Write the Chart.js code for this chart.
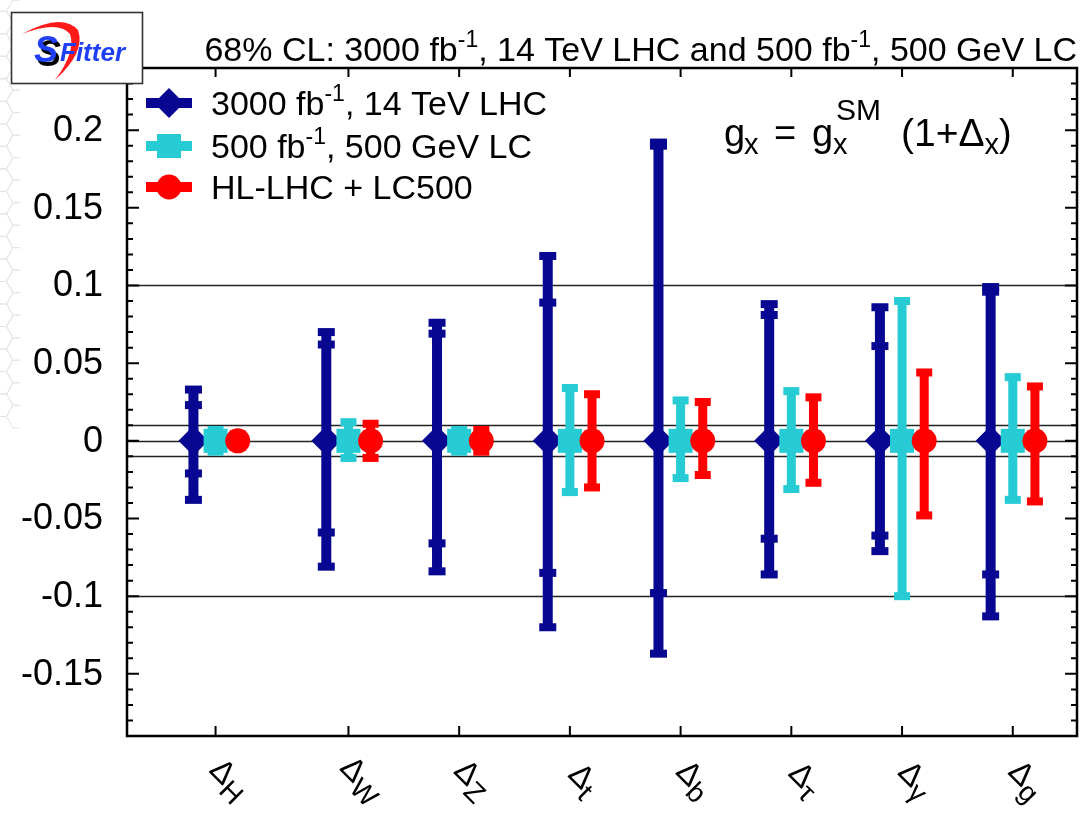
<!DOCTYPE html>
<html>
<head>
<meta charset="utf-8">
<script src="https://cdn.jsdelivr.net/npm/chart.js@4"></script>
<style>
  html, body { margin: 0; padding: 0; background: #fff; overflow: hidden; }
  canvas { display: block; }
</style>
</head>
<body>
<canvas id="chart" width="1080" height="819"></canvas>
<script>
// Couplings and their slot on the x axis
const couplings = ['H', 'W', 'Z', 't', 'b', 'τ', 'γ', 'g'];
const couplingX = [0.8, 2, 3, 4, 5, 6, 7, 8];
const yTicks = [0.2, 0.15, 0.1, 0.05, 0, -0.05, -0.1, -0.15];
const refLines = [0.1, 0.01, 0, -0.01, -0.1];

// 3000 fb^-1, 14 TeV LHC: central value, full band and inner band
const lhcCentral = [0, 0, 0, 0, 0, 0, 0, 0];
const lhcUp      = [0.033, 0.070, 0.076, 0.119, 0.192, 0.088, 0.086, 0.099];
const lhcDown    = [-0.038, -0.081, -0.084, -0.120, -0.137, -0.086, -0.071, -0.113];
const lhcInnerUp   = [0.023, 0.062, 0.069, 0.089, 0.190, 0.081, 0.061, 0.096];
const lhcInnerDown = [-0.021, -0.059, -0.066, -0.085, -0.098, -0.063, -0.061, -0.086];

// 500 fb^-1, 500 GeV LC
const lcCentral = [0, 0, 0, 0, 0, 0, 0, 0];
const lcUp      = [0.007, 0.012, 0.007, 0.034, 0.026, 0.032, 0.090, 0.041];
const lcDown    = [-0.007, -0.011, -0.007, -0.033, -0.024, -0.031, -0.100, -0.038];

// HL-LHC + LC500 combined
const comboCentral = [0, 0, 0, 0, 0, 0, 0, 0];
const comboUp      = [0.004, 0.011, 0.007, 0.030, 0.025, 0.028, 0.044, 0.035];
const comboDown    = [-0.004, -0.011, -0.007, -0.030, -0.022, -0.027, -0.048, -0.039];

const FONT = '"Liberation Sans", Arial, Helvetica, sans-serif';
const BLUE = '#070791';
const CYAN = '#26CBD4';
const RED = '#FF0000';

function fontOf(size, style) { return (style || '') + ' ' + size + 'px ' + FONT; }

// Lay out a run of text pieces (sub/superscripts via dy, stacked pieces via stack,
// fixed offsets via at)
function layoutRich(ctx, segs) {
  let x = 0, holdX = null, holdW = 0;
  const items = [];
  for (const s of segs) {
    if (s.at !== undefined) { x = s.at; holdX = null; }
    ctx.font = fontOf(s.size, s.style);
    const w = ctx.measureText(s.t).width;
    items.push(Object.assign({}, s, { x }));
    if (s.stack) { holdX = x; holdW = w; }
    else if (holdX !== null) { x = holdX + Math.max(holdW, w); holdX = null; }
    else x += w;
  }
  return { items, width: x };
}
function drawRich(ctx, segs, x, y, align) {
  const L = layoutRich(ctx, segs);
  let x0 = x;
  if (align === 'right') x0 = x - L.width;
  else if (align === 'center') x0 = x - L.width / 2;
  ctx.textAlign = 'left';
  ctx.textBaseline = 'alphabetic';
  for (const it of L.items) {
    ctx.font = fontOf(it.size, it.style);
    ctx.fillText(it.t, x0 + it.x, y + (it.dy || 0));
  }
  return L.width;
}

function makeSeries(label, xShift, central, color, style, radius, up, down, extra) {
  return Object.assign({
    label,
    data: couplingX.map((x, i) => ({ x: x + xShift, y: central[i] })),
    backgroundColor: color,
    borderColor: color,
    borderWidth: 0,
    pointStyle: style,
    pointRadius: radius,
    pointHoverRadius: radius,
    showLine: false,
    errUp: up,
    errDown: down
  }, extra);
}

const datasets = [
  makeSeries('HL-LHC + LC500', 0.2, comboCentral, RED, 'circle', 12.5, comboUp, comboDown,
    { order: 1, barWidth: 9, capWidth: 16 }),
  makeSeries('500 fb-1, 500 GeV LC', 0, lcCentral, CYAN, 'rect', 17, lcUp, lcDown,
    { order: 2, barWidth: 9, capWidth: 16 }),
  makeSeries('3000 fb-1, 14 TeV LHC', -0.2, lhcCentral, BLUE, 'rectRot', 15, lhcUp, lhcDown,
    { order: 3, barWidth: 10, capWidth: 17, innerUp: lhcInnerUp, innerDown: lhcInnerDown })
];

// faint honeycomb texture along the left margin
function drawMarginTexture(ctx, h) {
  ctx.save();
  ctx.beginPath();
  ctx.rect(0, 0, 20, h);
  ctx.clip();
  ctx.strokeStyle = '#e4e4e4';
  ctx.lineWidth = 1;
  const r = 13, dy = r * Math.sqrt(3);
  for (let row = -1; row * dy < h + dy; row++) {
    for (let col = -1; col < 2; col++) {
      const cx = col * r * 3 + ((row % 2) ? r * 1.5 : 0);
      const cy = row * dy / 2;
      ctx.beginPath();
      for (let k = 0; k < 6; k++) {
        const ang = k * Math.PI / 3;
        const px = cx + r * Math.cos(ang), py = cy + r * Math.sin(ang);
        if (k === 0) ctx.moveTo(px, py); else ctx.lineTo(px, py);
      }
      ctx.closePath();
      ctx.stroke();
    }
  }
  ctx.restore();
}

const errorBars = {
  id: 'errorBars',
  beforeDraw(chart) {
    const ctx = chart.ctx;
    ctx.save();
    ctx.fillStyle = '#fff';
    ctx.fillRect(0, 0, chart.width, chart.height);
    ctx.restore();
    drawMarginTexture(ctx, chart.height);
  },
  beforeDatasetsDraw(chart) {
    const { ctx, chartArea: a, scales: { y } } = chart;
    ctx.save();
    ctx.strokeStyle = '#222';
    ctx.lineWidth = 1.3;
    for (const v of refLines) {
      const py = Math.round(y.getPixelForValue(v)) + 0.5;
      ctx.beginPath();
      ctx.moveTo(a.left, py);
      ctx.lineTo(a.right, py);
      ctx.stroke();
    }
    ctx.restore();
  },
  beforeDatasetDraw(chart, args) {
    const ds = chart.data.datasets[args.index];
    const meta = args.meta;
    const ctx = chart.ctx;
    const y = chart.scales.y;
    const capH = 8;
    ctx.save();
    ctx.fillStyle = ds.borderColor;
    meta.data.forEach((pt, i) => {
      const c = ds.data[i].y;
      const top = y.getPixelForValue(c + ds.errUp[i]);
      const bot = y.getPixelForValue(c + ds.errDown[i]);
      ctx.fillRect(pt.x - ds.barWidth / 2, top, ds.barWidth, bot - top);
      const caps = [top, bot];
      if (ds.innerUp) {
        caps.push(y.getPixelForValue(c + ds.innerUp[i]));
        caps.push(y.getPixelForValue(c + ds.innerDown[i]));
      }
      for (const cy of caps) {
        ctx.fillRect(pt.x - ds.capWidth / 2, cy - capH / 2, ds.capWidth, capH);
      }
    });
    ctx.restore();
  },
  afterDatasetsDraw(chart) {
    const { ctx, chartArea: a, scales: { x, y } } = chart;
    ctx.save();
    // frame
    ctx.strokeStyle = '#000';
    ctx.lineWidth = 2.5;
    ctx.strokeRect(a.left, a.top, a.right - a.left, a.bottom - a.top);
    ctx.lineWidth = 2;
    // y ticks, every 0.01, longer at multiples of 0.05
    for (let k = Math.ceil(y.min * 100); k <= Math.floor(y.max * 100); k++) {
      const py = y.getPixelForValue(k / 100);
      const len = (k % 5 === 0) ? 12 : 6;
      ctx.beginPath();
      ctx.moveTo(a.left, py); ctx.lineTo(a.left + len, py);
      ctx.moveTo(a.right, py); ctx.lineTo(a.right - len, py);
      ctx.stroke();
    }
    // x ticks at each coupling, top and bottom
    for (const v of couplingX) {
      const px = x.getPixelForValue(v);
      ctx.beginPath();
      ctx.moveTo(px, a.top); ctx.lineTo(px, a.top + 9);
      ctx.moveTo(px, a.bottom); ctx.lineTo(px, a.bottom - 10);
      ctx.stroke();
    }
    ctx.fillStyle = '#000';
    // y tick labels
    ctx.font = fontOf(36);
    ctx.textAlign = 'right';
    ctx.textBaseline = 'middle';
    for (const v of yTicks) {
      ctx.fillText(String(Number(v.toFixed(2))), a.left - 24, y.getPixelForValue(v) + 1);
    }
    // x labels: Δ with subscript, turned 45 degrees
    couplings.forEach((c, i) => {
      const px = x.getPixelForValue(couplingX[i]);
      ctx.save();
      ctx.translate(px + 12, a.bottom + 45);
      ctx.rotate(45 * Math.PI / 180);
      const segs = [{ t: 'Δ', size: 32 }, { t: c, size: 28, dy: 8 }];
      const L = layoutRich(ctx, segs);
      drawRich(ctx, segs, -L.width / 2, 7, 'left');
      ctx.restore();
    });

    // title
    const sup = { size: 23, dy: -14 };
    drawRich(ctx, [
      { t: '68% CL: 3000 fb', size: 34 }, Object.assign({ t: '-1' }, sup),
      { t: ', 14 TeV LHC and 500 fb', size: 34 }, Object.assign({ t: '-1' }, sup),
      { t: ', 500 GeV LC', size: 34 }
    ], 1077, 61, 'right');

    // formula g_x = g_x^SM (1+Δ_x)
    drawRich(ctx, [
      { t: 'g', size: 38, at: 0 }, { t: 'x', size: 29, dy: 8, at: 20 },
      { t: '=', size: 38, at: 50 },
      { t: 'g', size: 38, at: 88 }, { t: 'x', size: 29, dy: 8, at: 109 },
      { t: 'SM', size: 30, dy: -26, at: 112 },
      { t: '(1+Δ', size: 39, at: 177 }, { t: 'x', size: 29, dy: 8 },
      { t: ')', size: 38 }
    ], 724, 146, 'left');

    // legend
    const rows = [
      { ds: chart.data.datasets[2], y: 103, segs: [{ t: '3000 fb', size: 34 }, Object.assign({ t: '-1' }, sup), { t: ', 14 TeV LHC', size: 34 }] },
      { ds: chart.data.datasets[1], y: 146, segs: [{ t: '500 fb', size: 34 }, Object.assign({ t: '-1' }, sup), { t: ', 500 GeV LC', size: 34 }] },
      { ds: chart.data.datasets[0], y: 187, segs: [{ t: 'HL-LHC + LC500', size: 34 }] }
    ];
    for (const r of rows) {
      ctx.fillStyle = r.ds.borderColor;
      ctx.fillRect(146, r.y - 5, 46, 10);
      ctx.strokeStyle = r.ds.borderColor;
      Chart.helpers.drawPoint(ctx, {
        pointStyle: r.ds.pointStyle, radius: r.ds.pointRadius, borderWidth: 0, rotation: 0
      }, 169, r.y);
      ctx.fillStyle = '#000';
      drawRich(ctx, r.segs, 211, r.y + 12, 'left');
    }
    ctx.restore();
  },
  afterDraw(chart) {
    const ctx = chart.ctx;
    ctx.save();
    // SFitter badge
    ctx.fillStyle = '#fff';
    ctx.fillRect(11, 12, 132, 72);
    ctx.strokeStyle = '#333';
    ctx.lineWidth = 1.6;
    ctx.strokeRect(11.5, 12.5, 131, 71);
    ctx.fillStyle = '#ff1a1a';
    ctx.beginPath();
    ctx.moveTo(22, 34);
    ctx.quadraticCurveTo(62, 12, 78, 30);
    ctx.quadraticCurveTo(86, 52, 55, 80);
    ctx.quadraticCurveTo(76, 52, 70, 34);
    ctx.quadraticCurveTo(58, 20, 22, 34);
    ctx.fill();
    ctx.font = 'italic bold 36px ' + FONT;
    ctx.textAlign = 'left';
    ctx.textBaseline = 'alphabetic';
    ctx.fillStyle = '#000';
    ctx.fillText('S', 37, 66);
    ctx.fillStyle = '#1f3ff5';
    ctx.fillText('S', 34, 62);
    ctx.font = 'italic bold 26px ' + FONT;
    ctx.fillText('Fitter', 60, 61);
    ctx.restore();
  }
};

new Chart(document.getElementById('chart'), {
  type: 'scatter',
  data: { datasets },
  options: {
    responsive: false,
    animation: false,
    devicePixelRatio: 1,
    events: [],
    layout: { autoPadding: false, padding: { left: 127, top: 68, right: 3, bottom: 83 } },
    plugins: { legend: { display: false }, tooltip: { enabled: false } },
    scales: {
      x: { type: 'linear', min: 0, max: 8.58, display: false },
      y: { type: 'linear', min: -0.19, max: 0.24, display: false }
    }
  },
  plugins: [errorBars]
});
</script>
</body>
</html>
